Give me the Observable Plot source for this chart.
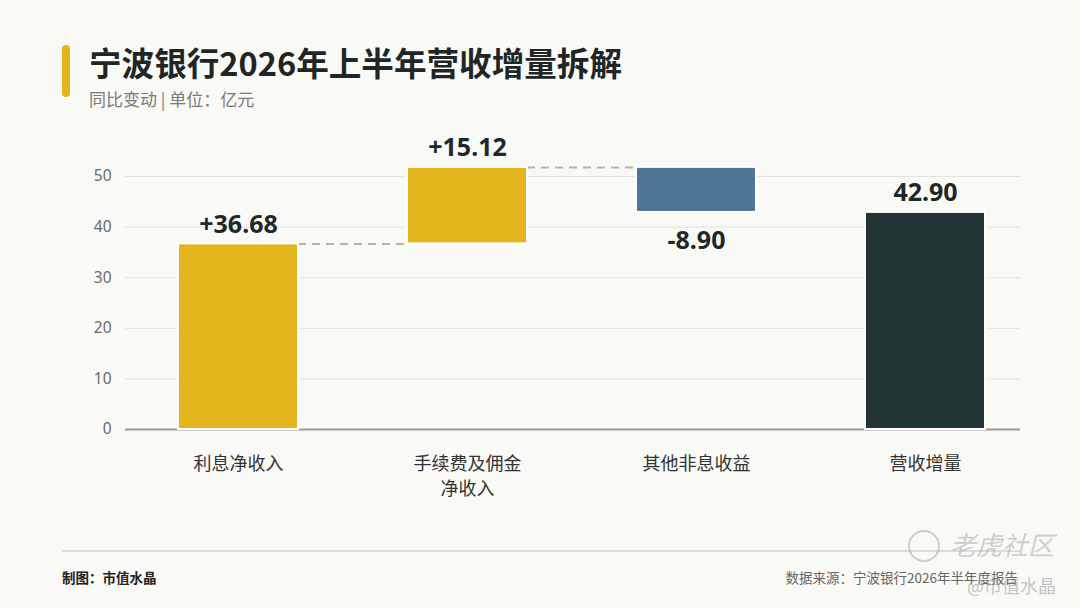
<!DOCTYPE html>
<html>
<head>
<meta charset="utf-8">
<script src="https://cdn.jsdelivr.net/npm/d3@7"></script>
<script src="https://cdn.jsdelivr.net/npm/@observablehq/plot@0.6"></script>
<style>
html, body { margin: 0; padding: 0; background: #F9F9F6; }
#page { position: relative; width: 1080px; height: 608px; overflow: hidden; background: #F9F9F6;
  font-family: "Noto Sans", "Noto Sans CJK SC", sans-serif; }
.accent { position: absolute; left: 62px; top: 45px; width: 8px; height: 52px; border-radius: 4px; background: #E3B41B; }
.title { position: absolute; left: 89px; top: 44px; font-family: "Noto Sans CJK SC", sans-serif; font-weight: 700;
  font-size: 32.6px; line-height: 36px; color: #1E2626; white-space: nowrap; }
.subtitle { position: absolute; left: 89px; top: 89px; font-family: "Noto Sans CJK SC", sans-serif;
  font-size: 17px; line-height: 20px; color: #7a7a7a; white-space: pre; }
#chart { position: absolute; left: 0; top: 120px; width: 1080px; height: 400px; }
.rule { position: absolute; left: 62px; top: 550px; width: 958px; height: 2px; background: #dcdcd8; }
.credit { position: absolute; left: 62px; top: 568px; font-family: "Noto Sans CJK SC", sans-serif; font-weight: 700;
  font-size: 13.5px; line-height: 18px; color: #222; white-space: nowrap; }
.source { position: absolute; right: 62px; top: 568px; font-family: "Noto Sans CJK SC", sans-serif;
  font-size: 13.5px; line-height: 18px; color: #666; white-space: nowrap; }
.wm1 { position: absolute; left: 950px; top: 529px; font-family: "Noto Sans CJK SC", sans-serif; font-size: 26px;
  line-height: 30px; color: rgba(170,170,170,0.55); font-style: italic; white-space: nowrap; }
.wmlogo { position: absolute; left: 908px; top: 530px; width: 28px; height: 28px; border-radius: 50%;
  border: 2px solid rgba(170,170,170,0.55); }
.wm2 { position: absolute; left: 967px; top: 574px; font-family: "Noto Sans CJK SC", sans-serif; font-size: 18px;
  line-height: 22px; color: rgba(160,160,160,0.6); white-space: nowrap; }
</style>
</head>
<body>
<div id="page">
  <div class="accent"></div>
  <div class="title">宁波银行2026年上半年营收增量拆解</div>
  <div class="subtitle">同比变动 | 单位：亿元</div>
  <div id="chart"></div>
  <div class="rule"></div>
  <div class="credit">制图：市值水晶</div>
  <div class="source">数据来源：宁波银行2026年半年度报告</div>
  <div class="wmlogo"></div>
  <div class="wm1">老虎社区</div>
  <div class="wm2">@市值水晶</div>
</div>
<script>
// ---- data ----
const categories = ["利息净收入", "手续费及佣金\n净收入", "其他非息收益", "营收增量"];
const changes = [36.68, 15.12, -8.90, 42.90];
const kinds = ["increase", "increase", "decrease", "total"];
const valueLabels = ["+36.68", "+15.12", "-8.90", "42.90"];
const yTicks = [0, 10, 20, 30, 40, 50];

// ---- build waterfall rows ----
let running = 0;
const rows = categories.map((c, i) => {
  let start, end;
  if (kinds[i] === "total") { start = 0; end = changes[i]; }
  else { start = running; end = running + changes[i]; running = end; }
  return { category: c, start, end, kind: kinds[i], label: valueLabels[i] };
});
const connectors = rows.slice(0, -2).map((r, i) => ({ from: r.category, to: rows[i + 1].category, level: r.end }));

// ---- layout ----
const xRange = [66.4, 1095.4];
const pad = 0.478;
const bw = d3.scaleBand().domain(categories).range(xRange).paddingInner(pad).paddingOuter(pad).bandwidth();

const chart = Plot.plot({
  width: 1080,
  height: 400,
  marginLeft: 125,
  marginRight: 60,
  marginTop: 56,
  marginBottom: 91,
  style: { background: "transparent", fontFamily: "'Noto Sans', 'Noto Sans CJK SC', sans-serif", overflow: "visible" },
  x: { domain: categories, range: xRange, paddingInner: pad, paddingOuter: pad, label: null },
  y: { domain: [0, 50], label: null },
  color: { domain: ["increase", "decrease", "total"], range: ["#E3B41B", "#4F7696", "#233434"] },
  marks: [
    Plot.gridY(yTicks, { stroke: "#e2e2de", strokeOpacity: 1, strokeWidth: 1 }),
    Plot.ruleY([0], { stroke: "#9b9b9b", strokeWidth: 2 }),
    Plot.axisY(yTicks, { tickSize: 0, tickPadding: 14, fontSize: 15.5, color: "#6a6a6a", label: null }),
    Plot.axisX({ tickSize: 0, tickPadding: 23, fontSize: 18, color: "#333", lineHeight: 1.39, label: null,
      fontFamily: "'Noto Sans CJK SC', sans-serif" }),
    Plot.ruleY(connectors, { x1: "from", x2: "to", y: "level", insetLeft: bw, insetRight: bw,
      stroke: "#b3b3b3", strokeWidth: 2, strokeDasharray: "8,6" }),
    Plot.barY(rows, { x: "category", y1: "start", y2: "end", fill: "kind", stroke: "#ffffff", strokeWidth: 2 }),
    Plot.text(rows.filter(d => d.kind !== "decrease"), { x: "category", y: "end", text: "label", dy: -19,
      lineAnchor: "middle", fontSize: 25, fontWeight: "bold", fill: "#1E2828" }),
    Plot.text(rows.filter(d => d.kind === "decrease"), { x: "category", y: "end", text: "label", dy: 29,
      lineAnchor: "middle", fontSize: 25, fontWeight: "bold", fill: "#1E2828" })
  ]
});
document.getElementById("chart").appendChild(chart);
</script>
</body>
</html>
